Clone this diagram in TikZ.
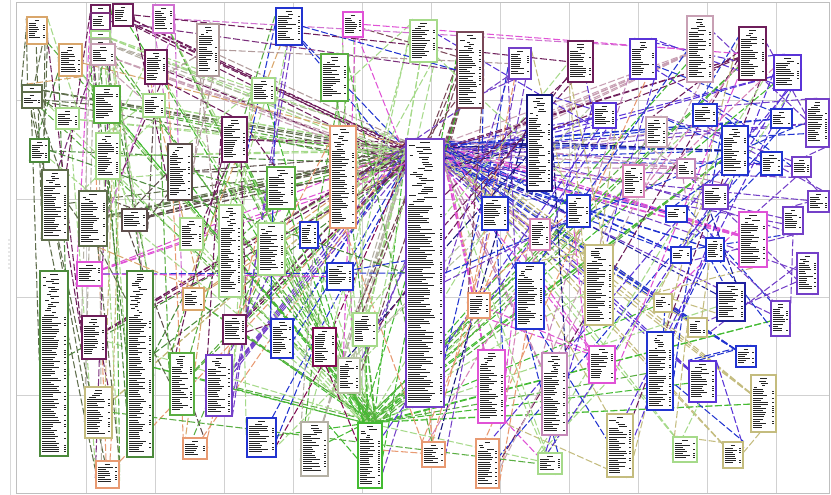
\documentclass[tikz,border=0pt]{standalone}
\usetikzlibrary{fit}
\pgfdeclarelayer{gridlayer}\pgfdeclarelayer{bglayer}
\pgfsetlayers{gridlayer,bglayer,main}
\definecolor{tanc}{HTML}{D9A66B}
\definecolor{orangec}{HTML}{E89A72}
\definecolor{olivedk}{HTML}{5F6E4C}
\definecolor{olivelt}{HTML}{C4BC7E}
\definecolor{ltgreen}{HTML}{A6DA8A}
\definecolor{cgreen}{HTML}{5AAE42}
\definecolor{dkgreen}{HTML}{4C8A3C}
\definecolor{brightg}{HTML}{44BB33}
\definecolor{pinkgray}{HTML}{C8A0B4}
\definecolor{mauve}{HTML}{C488B8}
\definecolor{dkpurple}{HTML}{6E1E5A}
\definecolor{dkmag}{HTML}{7B2F7B}
\definecolor{dkmagb}{HTML}{800A50}
\definecolor{cpurple}{HTML}{7440C8}
\definecolor{bluep}{HTML}{5A34D8}
\definecolor{cblue}{HTML}{2234D0}
\definecolor{navy}{HTML}{16167A}
\definecolor{navyb}{HTML}{2020A0}
\definecolor{cmagenta}{HTML}{E052D6}
\definecolor{orchid}{HTML}{D070D0}
\definecolor{brgray}{HTML}{5E4E4C}
\definecolor{cgray}{HTML}{B4B0A4}
\definecolor{rosyb}{HTML}{B09A9A}
\definecolor{dkmauve}{HTML}{7A4858}
\definecolor{pinkc}{HTML}{D884B8}
\definecolor{ltmauve}{HTML}{C8A8B4}
\definecolor{graylg}{HTML}{B8C4A4}
\tikzset{
 tbl/.style={draw, fill=white, line width=1.5pt, inner sep=0pt},
 txt/.style={line width=0.55pt, draw=black!85},
 conn/.style={line width=1.05pt, dash pattern=on 7pt off 2.5pt},
 gridline/.style={draw=black!18, line width=1pt}
}
\newcommand\tb[6]{%
 \node[tbl, draw=#6, fit={(#2,#3) (#4,#5)}] (n#1) {};%
 \expandafter\xdef\csname tc#1\endcsname{#6}%
 \pgfmathtruncatemacro\tbrows{(#5-#3-6)/2.1}%
 \pgfmathsetmacro\tbw{#4-#2-4}%
 \pgfmathtruncatemacro\tbkey{max(1,\tbrows*0.25)}%
 \draw[txt] ({(#2+#4)/2-\tbw*0.15},{#3+3}) -- ++({\tbw*0.3},0);%
 \ifnum\tbrows>2\relax
 \foreach \k in {2,...,\tbrows}{%
   \pgfmathsetmacro\tby{#3+1.8+\k*2.1}%
   \ifnum\k<\tbkey\relax
     \pgfmathsetmacro\tbl{\tbw*(0.1+0.3*rnd)}%
     \pgfmathsetmacro\tbx{#2+2+\tbw*0.5*rnd}%
     \draw[txt] (\tbx,\tby) -- ++(\tbl,0);%
   \else
     \pgfmathsetmacro\tbl{\tbw*(0.35+0.45*rnd)}%
     \draw[txt] ({#2+2},\tby) -- ++(\tbl,0);%
     \pgfmathsetmacro\tbr{rnd}%
     \ifdim\tbr pt>0.5pt \draw[txt] ({#4-4},\tby) -- ++(2.2,0);\fi
   \fi
 }%
 \fi
}
\begin{document}
\begin{tikzpicture}[x=1pt,y=-1pt]
\pgfmathsetseed{20240}
\useasboundingbox (0,0) rectangle (831,495);
\begin{pgfonlayer}{gridlayer}
 \fill[white] (0,0) rectangle (831,495);
 \foreach \x in {86,155,...,776} \draw[gridline] (\x,3) -- (\x,493);
 \foreach \y in {101,199,297,395} \draw[gridline] (16,\y) -- (829,\y);
 \draw[black!25, line width=1pt] (16,3) rectangle (829,493);
 \draw[black!15, line width=0.8pt] (10,0) -- (10,495);
 \foreach \y in {240,244,...,268} \fill[black!40] (9,\y) circle (0.6);
\end{pgfonlayer}
\tb{1}{27}{17}{47}{44}{tanc}
\tb{2}{59}{44}{82}{76}{tanc}
\tb{3}{22}{85}{42}{92}{olivedk}
\tb{4}{22}{92}{42}{108}{olivedk}
\tb{5}{56}{108}{79}{129}{ltgreen}
\tb{6}{30}{139}{49}{162}{dkgreen}
\tb{7}{42}{170}{68}{240}{olivedk}
\tb{8}{77}{262}{102}{286}{cmagenta}
\tb{9}{40}{271}{68}{456}{dkgreen}
\tb{10}{82}{316}{106}{359}{dkpurple}
\tb{11}{85}{387}{112}{438}{olivelt}
\tb{12}{96}{461}{119}{488}{orangec}
\tb{13}{91}{5}{110}{13}{dkpurple}
\tb{14}{91}{13}{110}{30}{dkmag}
\tb{15}{91}{31}{110}{38}{ltgreen}
\tb{16}{91}{39}{110}{44}{cgray}
\tb{17}{91}{44}{115}{65}{pinkgray}
\tb{18}{113}{4}{133}{26}{dkpurple}
\tb{19}{94}{86}{120}{123}{cgreen}
\tb{20}{96}{133}{120}{179}{ltgreen}
\tb{21}{79}{191}{107}{246}{olivedk}
\tb{22}{122}{209}{147}{231}{brgray}
\tb{23}{127}{271}{153}{457}{dkgreen}
\tb{24}{145}{50}{167}{84}{dkpurple}
\tb{25}{153}{5}{174}{33}{orchid}
\tb{26}{143}{94}{165}{117}{ltgreen}
\tb{27}{168}{144}{192}{200}{brgray}
\tb{28}{180}{218}{203}{250}{ltgreen}
\tb{29}{183}{288}{204}{310}{tanc}
\tb{30}{170}{353}{194}{415}{cgreen}
\tb{31}{183}{438}{207}{459}{orangec}
\tb{32}{197}{24}{219}{76}{rosyb}
\tb{33}{222}{117}{247}{162}{dkpurple}
\tb{34}{252}{78}{275}{103}{ltgreen}
\tb{35}{276}{8}{302}{45}{cblue}
\tb{36}{267}{167}{295}{209}{cgreen}
\tb{37}{219}{205}{242}{297}{ltgreen}
\tb{38}{258}{223}{285}{275}{ltgreen}
\tb{39}{300}{222}{318}{248}{cblue}
\tb{40}{223}{315}{246}{344}{dkpurple}
\tb{41}{206}{355}{232}{416}{cpurple}
\tb{42}{271}{319}{293}{358}{cblue}
\tb{43}{247}{418}{276}{457}{cblue}
\tb{44}{301}{422}{328}{476}{cgray}
\tb{45}{313}{328}{336}{366}{dkmagb}
\tb{46}{327}{263}{353}{290}{cblue}
\tb{47}{343}{12}{363}{37}{cmagenta}
\tb{48}{321}{54}{348}{101}{cgreen}
\tb{49}{330}{126}{356}{228}{orangec}
\tb{50}{353}{313}{377}{346}{ltgreen}
\tb{51}{338}{358}{360}{393}{graylg}
\tb{52}{358}{423}{382}{488}{brightg}
\tb{53}{410}{20}{437}{62}{ltgreen}
\tb{54}{406}{139}{444}{407}{cpurple}
\tb{55}{422}{442}{445}{467}{orangec}
\tb{56}{457}{32}{483}{108}{dkmauve}
\tb{57}{509}{48}{531}{79}{cpurple}
\tb{58}{568}{41}{593}{82}{dkpurple}
\tb{59}{527}{95}{552}{191}{navy}
\tb{60}{593}{103}{616}{128}{bluep}
\tb{61}{482}{197}{508}{230}{cblue}
\tb{62}{567}{195}{590}{227}{cblue}
\tb{63}{530}{219}{550}{250}{pinkc}
\tb{64}{468}{293}{490}{318}{orangec}
\tb{65}{516}{263}{544}{329}{cblue}
\tb{66}{585}{245}{613}{325}{olivelt}
\tb{67}{478}{350}{505}{423}{cmagenta}
\tb{68}{542}{353}{567}{435}{mauve}
\tb{69}{589}{346}{615}{383}{cmagenta}
\tb{70}{476}{439}{499}{488}{orangec}
\tb{71}{538}{453}{562}{474}{ltgreen}
\tb{72}{607}{414}{633}{477}{olivelt}
\tb{73}{630}{39}{656}{79}{bluep}
\tb{74}{687}{16}{713}{82}{pinkgray}
\tb{75}{739}{27}{766}{80}{dkpurple}
\tb{76}{774}{55}{801}{90}{bluep}
\tb{77}{646}{117}{667}{147}{ltmauve}
\tb{78}{693}{104}{717}{126}{cblue}
\tb{79}{771}{109}{792}{128}{cblue}
\tb{80}{806}{99}{829}{147}{cpurple}
\tb{81}{722}{126}{748}{175}{cblue}
\tb{82}{761}{152}{782}{175}{cblue}
\tb{83}{792}{157}{811}{177}{cpurple}
\tb{84}{623}{165}{644}{197}{pinkc}
\tb{85}{677}{159}{695}{178}{mauve}
\tb{86}{703}{185}{728}{209}{cpurple}
\tb{87}{808}{191}{829}{212}{cpurple}
\tb{88}{666}{206}{687}{222}{cblue}
\tb{89}{739}{212}{767}{267}{cmagenta}
\tb{90}{783}{207}{803}{234}{cpurple}
\tb{91}{671}{247}{691}{263}{cblue}
\tb{92}{706}{238}{724}{261}{cblue}
\tb{93}{797}{253}{818}{294}{cpurple}
\tb{94}{654}{294}{672}{312}{olivelt}
\tb{95}{717}{283}{745}{321}{navyb}
\tb{96}{771}{301}{790}{336}{cpurple}
\tb{97}{688}{318}{707}{337}{olivelt}
\tb{98}{647}{332}{673}{410}{cblue}
\tb{99}{689}{361}{716}{402}{bluep}
\tb{100}{736}{346}{756}{367}{cblue}
\tb{101}{751}{375}{776}{432}{olivelt}
\tb{102}{673}{437}{697}{462}{ltgreen}
\tb{103}{723}{442}{743}{468}{olivelt}
\begin{pgfonlayer}{bglayer}
 % lines converging on the central table
 \foreach \i in {1,...,190}{%
   \pgfmathrandominteger{\src}{1}{103}%
   \pgfmathsetmacro\off{1+rnd*32}%
   \edef\cc{\csname tc\src\endcsname}%
   \ifnum\src=54\relax\else
     \ifnum\src>55\relax
       \draw[conn,draw=\cc] (n\src) -- ([yshift=-\off pt]n54.north east);
     \else
       \draw[conn,draw=\cc] (n\src) -- ([yshift=-\off pt]n54.north west);
     \fi
   \fi
 }
 % lines converging on the green table at the bottom
 \foreach \i in {1,...,70}{%
   \pgfmathrandominteger{\src}{1}{103}%
   \pgfmathsetmacro\off{-10+rnd*20}%
   \pgfmathrandominteger{\gsel}{1}{3}%
   \ifcase\gsel\or\def\cc{cgreen}\or\def\cc{ltgreen}\or\def\cc{brightg}\fi
   \ifnum\src=52\relax\else
     \draw[conn,draw=\cc] (n\src) -- ([xshift=\off pt]n52.north);
   \fi
 }
 % relations between neighbouring tables
 \foreach \i in {1,...,300}{%
   \pgfmathrandominteger{\src}{1}{103}%
   \pgfmathrandominteger{\dlt}{-9}{9}%
   \pgfmathtruncatemacro\tgt{max(1,min(103,\src+\dlt))}%
   \pgfmathrandominteger{\angA}{0}{359}%
   \pgfmathrandominteger{\angB}{0}{359}%
   \edef\cc{\csname tc\src\endcsname}%
   \ifnum\src=\tgt\relax\else
     \draw[conn,draw=\cc] (n\src.\angA) -- (n\tgt.\angB);
   \fi
 }
 % long relations along the top
 \draw[conn,draw=orchid] (n25.east) -- (n74.west);
 \draw[conn,draw=cmagenta] (n47.east) -- (n75.west);
 \draw[conn,draw=dkmag] (n14.east) -- (n56.west);
 \draw[conn,draw=cblue] (n35.east) -- (n56.west);
 \draw[conn,draw=dkpurple] (n18.east) -- (n58.west);
 \draw[conn,draw=rosyb] (n32.east) -- (n57.west);
 \draw[conn,draw=olivedk] (n4.east) -- (n19.west);
 \draw[conn,draw=olivedk] (n7.east) -- (n21.west);
 \draw[conn,draw=cblue] (n8.east) -- (n54.west);
 \draw[conn,draw=cmagenta] (n8.east) -- (n46.west);
 \draw[conn,draw=dkgreen] (n6.east) -- (n54.west);
 \draw[conn,draw=cgreen] (n11.east) -- (n71.west);
 \draw[conn,draw=cblue] (n54.east) -- (n80.west);
 \draw[conn,draw=navy] (n59.east) -- (n81.west);
\end{pgfonlayer}
\end{tikzpicture}
\end{document}
